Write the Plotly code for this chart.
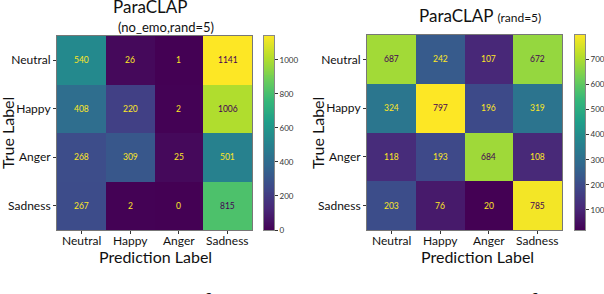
import plotly.graph_objects as go

labels = ["Neutral", "Happy", "Anger", "Sadness"]
cm_left = [
    [540, 26, 1, 1141],
    [408, 220, 2, 1006],
    [268, 309, 25, 501],
    [267, 2, 0, 815],
]
cm_right = [
    [687, 242, 107, 672],
    [324, 797, 196, 319],
    [118, 193, 684, 108],
    [203, 76, 20, 785],
]
ticks_left = [0, 200, 400, 600, 800, 1000]
ticks_right = [100, 200, 300, 400, 500, 600, 700]

W, H = 604, 294
FONT = "Lato"
YEL = "#fde725"
PUR = "#440154"
TXT = "#111"

def px_x(p):
    return p / W

def px_y(p):
    return 1 - p / H

fig = go.Figure()

panels = [
    dict(cm=cm_left, n=1, xd=[px_x(57), px_x(252)], yd=[px_y(230), px_y(36)],
         cbd=[px_x(264), px_x(274)], ticks=ticks_left,
         ytitle_x=8, xtitle_x=155),
    dict(cm=cm_right, n=2, xd=[px_x(367), px_x(562)], yd=[px_y(230), px_y(35)],
         cbd=[px_x(575), px_x(585)], ticks=ticks_right,
         ytitle_x=318, xtitle_x=477),
]

annotations = []
layout = {}
for i, p in enumerate(panels):
    cm = p["cm"]
    flat = [v for row in cm for v in row]
    zmin, zmax = min(flat), max(flat)
    thr = (zmin + zmax) / 2
    hx = "x" if i == 0 else "x%d" % (2 * i + 1)
    hy = "y" if i == 0 else "y%d" % (2 * i + 1)
    cx = "x%d" % (2 * i + 2)
    cy = "y%d" % (2 * i + 2)
    fig.add_trace(go.Heatmap(
        z=cm, x=labels, y=labels, xaxis=hx, yaxis=hy,
        colorscale="Viridis", zmin=zmin, zmax=zmax, hoverinfo="skip", showscale=False,
    ))
    # manual colorbar: a vertical gradient spanning the value range
    nsteps = 200
    grad = [zmin + (zmax - zmin) * k / (nsteps - 1) for k in range(nsteps)]
    fig.add_trace(go.Heatmap(
        z=[[g] for g in grad], y=grad, x=[0], xaxis=cx, yaxis=cy,
        colorscale="Viridis", zmin=zmin, zmax=zmax, hoverinfo="skip", showscale=False,
    ))
    for r, row in enumerate(cm):
        for c, v in enumerate(row):
            annotations.append(dict(
                x=labels[c], y=labels[r], xref=hx, yref=hy, text=str(v),
                showarrow=False, font=dict(family=FONT, size=8.5, color=PUR if v > thr else YEL),
            ))
    # x tick labels placed just under the axis
    for c, lab in enumerate(labels):
        annotations.append(dict(
            x=lab, y=px_y(240), xref=hx, yref="paper", text=lab, showarrow=False,
            font=dict(family=FONT, size=12, color=TXT), xanchor="center", yanchor="middle",
        ))
    axis_common = dict(showline=True, mirror=True, linecolor="#777", linewidth=1,
                       ticks="outside", ticklen=3, tickcolor="#333",
                       tickfont=dict(family=FONT, size=12, color=TXT), showgrid=False,
                       zeroline=False, automargin=False)
    hxk = "xaxis" if i == 0 else "xaxis%d" % (2 * i + 1)
    hyk = "yaxis" if i == 0 else "yaxis%d" % (2 * i + 1)
    layout[hxk] = dict(domain=p["xd"], anchor=hy, showticklabels=False, **axis_common)
    layout[hyk] = dict(domain=p["yd"], anchor=hx, autorange="reversed", **axis_common)
    layout["xaxis%d" % (2 * i + 2)] = dict(domain=p["cbd"], anchor=cy, showticklabels=False,
                                           ticks="", showline=True, mirror=True, linecolor="#888",
                                           showgrid=False, zeroline=False, automargin=False)
    layout["yaxis%d" % (2 * i + 2)] = dict(domain=p["yd"], anchor=cx, side="right",
                                           range=[zmin, zmax], tickvals=p["ticks"],
                                           ticks="outside", ticklen=3, tickcolor="#333",
                                           tickfont=dict(family=FONT, size=8, color="#333"),
                                           showline=True, mirror=True, linecolor="#888",
                                           showgrid=False, zeroline=False, automargin=False)
    annotations.append(dict(x=px_x(p["ytitle_x"]), y=px_y(133), xref="paper", yref="paper",
                            text="True Label", textangle=-90, showarrow=False,
                            font=dict(family=FONT, size=16, color=TXT),
                            xanchor="center", yanchor="middle"))
    annotations.append(dict(x=px_x(p["xtitle_x"]), y=px_y(256), xref="paper", yref="paper",
                            text="Prediction Label", showarrow=False,
                            font=dict(family=FONT, size=16, color=TXT),
                            xanchor="center", yanchor="middle"))

# titles
annotations += [
    dict(x=px_x(150), y=px_y(6), xref="paper", yref="paper", text="ParaCLAP", showarrow=False,
         font=dict(family=FONT, size=17, color=TXT), xanchor="center", yanchor="middle"),
    dict(x=px_x(166), y=px_y(27), xref="paper", yref="paper", text="(no_emo,rand=5)", showarrow=False,
         font=dict(family=FONT, size=13, color=TXT), xanchor="center", yanchor="middle"),
    dict(x=px_x(480), y=px_y(16), xref="paper", yref="paper",
         text="ParaCLAP <span style='font-size:12px'>(rand=5)</span>", showarrow=False,
         font=dict(family=FONT, size=17, color=TXT), xanchor="center", yanchor="middle"),
    dict(x=px_x(22), y=px_y(287), xref="paper", yref="paper",
         text="Figure 2: <i>The confusion matrices illustrate the performance of</i>", showarrow=False,
         font=dict(family="Liberation Serif", size=25, color=TXT), xanchor="left", yanchor="top"),
]

fig.update_layout(width=W, height=H, margin=dict(l=0, r=0, t=0, b=0),
                  paper_bgcolor="white", plot_bgcolor="white", annotations=annotations,
                  showlegend=False, **layout)

fig.write_html("out.html", config={"displayModeBar": False},
               post_script="document.body.style.margin='0px';document.body.style.overflow='hidden';")
